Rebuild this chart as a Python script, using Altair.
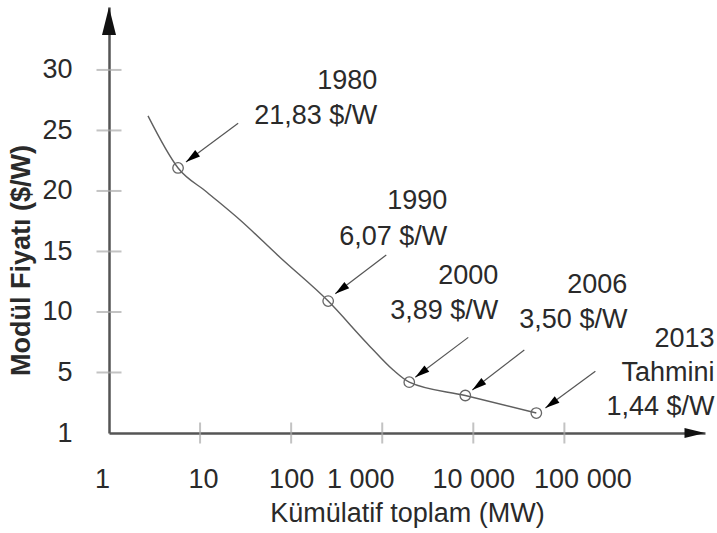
import math
import altair as alt
import pandas as pd

# ---------------- data ----------------
curve_x = [2.68, 5.73, 11.9, 27.5, 75.7, 255, 684, 1321, 1981, 8170, 49200]
curve_y = [26.2, 21.9, 19.9, 17.6, 14.5, 10.9, 7.4, 5.2, 4.2, 3.1, 1.65]

years = ["1980", "1990", "2000", "2006", "2013"]
point_x = [5.73, 255, 1981, 8170, 49200]
point_y = [21.9, 10.9, 4.2, 3.1, 1.65]

label_lines = [
    ["1980", "21,83 $/W"],
    ["1990", "6,07 $/W"],
    ["2000", "3,89 $/W"],
    ["2006", "3,50 $/W"],
    ["2013", "Tahmini", "1,44 $/W"],
]
label_right_x = [881, 5180, 18800, 492000, 4.45e6]
label_line_y = [[29.1, 26.2], [19.2, 16.2], [13.0, 10.07], [12.2, 9.3], [7.76, 4.95, 2.15]]

arrow_from_x = [26.2, 1107, 8810, 36300, 219000]
arrow_from_y = [25.6, 14.7, 7.9, 6.85, 5.1]
arrow_to_x = [7.0, 305, 2306, 9750, 61900]
arrow_to_y = [22.4, 11.5, 4.6, 3.55, 2.06]

x_tick_values = [1, 10, 100, 1000, 10000, 100000]
x_tick_labels = ["1", "10", "100", "1 000", "10 000", "100 000"]
y_tick_values = [0, 5, 10, 15, 20, 25, 30]
y_tick_labels = ["1", "5", "10", "15", "20", "25", "30"]

X_MAX = 3.5e6
Y_MAX = 35.2
W, H = 596, 426

FONT = "Liberation Sans"
TXT = "#2a2a2a"
FS = 27

# horizontal nudges of the x tick labels as they sit in the original drawing (px)
X_LABEL_NUDGE = [-7, 3, 0, -22, 0, 18]


def px(v):
    return W * math.log10(v) / math.log10(X_MAX)


def py(v):
    return H * (1 - v / Y_MAX)


def lookup_expr(values, outs, default):
    parts = [f"datum.value == {v} ? {o}" for v, o in zip(values, outs)]
    return " : ".join(parts) + f" : {default}"


xs = alt.Scale(type="log", domain=[1, X_MAX], nice=False)
ys = alt.Scale(domain=[0, Y_MAX], nice=False, zero=False)

x_axis = alt.Axis(
    values=x_tick_values,
    labelExpr=lookup_expr(x_tick_values, [f"'{l}'" for l in x_tick_labels], "''"),
    labelOffset={"expr": lookup_expr(x_tick_values, X_LABEL_NUDGE, 0)},
    title="Kümülatif toplam (MW)", ticks=False, grid=False,
    domainColor="#555555", domainWidth=2.5, labelPadding=33, labelFontSize=FS,
    labelFont=FONT, labelColor=TXT, labelFlush=False, labelOverlap=False,
    titleFontSize=FS, titleFont=FONT, titleColor=TXT, titleFontWeight="normal",
    titleY=80, titleBaseline="middle",
)
y_axis = alt.Axis(
    values=y_tick_values,
    labelExpr=lookup_expr(y_tick_values, [f"'{l}'" for l in y_tick_labels], "''"),
    title="Modül Fiyatı ($/W)", ticks=False, grid=False,
    domainColor="#555555", domainWidth=2.5, labelPadding=37, labelFontSize=FS,
    labelFont=FONT, labelColor=TXT, labelOverlap=False,
    titleFontSize=FS, titleFont=FONT, titleColor=TXT, titleFontWeight="bold",
    titleX=-88, titleY=253, titleBaseline="middle",
)


def X(field):
    return alt.X(field, scale=xs, axis=x_axis)


def Y(field):
    return alt.Y(field, scale=ys, axis=y_axis)


curve_df = pd.DataFrame({"x": curve_x, "y": curve_y})
point_df = pd.DataFrame({"x": point_x, "y": point_y, "year": years})

angles = [
    math.degrees(math.atan2(px(tx) - px(fx), -(py(ty) - py(fy)))) % 360
    for fx, fy, tx, ty in zip(arrow_from_x, arrow_from_y, arrow_to_x, arrow_to_y)
]
arrow_df = pd.DataFrame({
    "fx": arrow_from_x, "fy": arrow_from_y, "tx": arrow_to_x, "ty": arrow_to_y,
    "angle": angles,
})

rows = []
for lines, xr, ylist in zip(label_lines, label_right_x, label_line_y):
    for t, yv in zip(lines, ylist):
        rows.append({"x": xr, "y": yv, "t": t})
text_df = pd.DataFrame(rows)

xtick_df = pd.DataFrame({"x": x_tick_values[1:], "y": [0] * (len(x_tick_values) - 1)})
ytick_df = pd.DataFrame({"x": [1] * (len(y_tick_values) - 1), "y": y_tick_values[1:]})
axis_arrow_df = pd.DataFrame({"x": [1, X_MAX], "y": [Y_MAX, 0], "angle": [0, 90], "s": [784, 420]})

HEAD = "M0,0L-0.55,2L0.55,2Z"

curve = alt.Chart(curve_df).mark_line(
    interpolate="monotone", color="#5f5f5f", strokeWidth=1.4
).encode(x=X("x:Q"), y=Y("y:Q"))

xticks = alt.Chart(xtick_df).mark_tick(orient="vertical", size=21, thickness=2, color="#aaaaaa").encode(
    x=X("x:Q"), y=Y("y:Q"))
yticks = alt.Chart(ytick_df).mark_tick(orient="horizontal", size=25, thickness=2, color="#aaaaaa").encode(
    x=X("x:Q"), y=Y("y:Q"))

points = alt.Chart(point_df).mark_point(
    shape="circle", filled=False, size=110, stroke="#666666", strokeWidth=1.3, opacity=1
).encode(x=X("x:Q"), y=Y("y:Q"))

rules = alt.Chart(arrow_df).mark_rule(color="#555555", strokeWidth=1.2).encode(
    x=X("fx:Q"), y=Y("fy:Q"), x2="tx:Q", y2="ty:Q")

heads = alt.Chart(arrow_df).mark_point(
    shape=HEAD, filled=True, color="#000000", size=210, opacity=1
).encode(x=X("tx:Q"), y=Y("ty:Q"), angle=alt.Angle("angle:Q", scale=None))

axis_heads = alt.Chart(axis_arrow_df).mark_point(
    shape="M0,0L-0.5,2L0.5,2Z", filled=True, color="#111111", opacity=1
).encode(
    x=X("x:Q"), y=Y("y:Q"),
    angle=alt.Angle("angle:Q", scale=None), size=alt.Size("s:Q", scale=None))

texts = alt.Chart(text_df).mark_text(
    align="right", baseline="middle", fontSize=FS, font=FONT, color=TXT
).encode(x=X("x:Q"), y=Y("y:Q"), text="t:N")

chart = alt.layer(curve, xticks, yticks, rules, heads, points, axis_heads, texts).properties(
    width=W, height=H,
    padding={"left": 109, "top": 7, "right": 12, "bottom": 100},
    autosize=alt.AutoSizeParams(type="none"),
    background="white",
).configure_view(stroke=None)

chart.save("out.html", embed_options={"renderer": "svg", "actions": False})
